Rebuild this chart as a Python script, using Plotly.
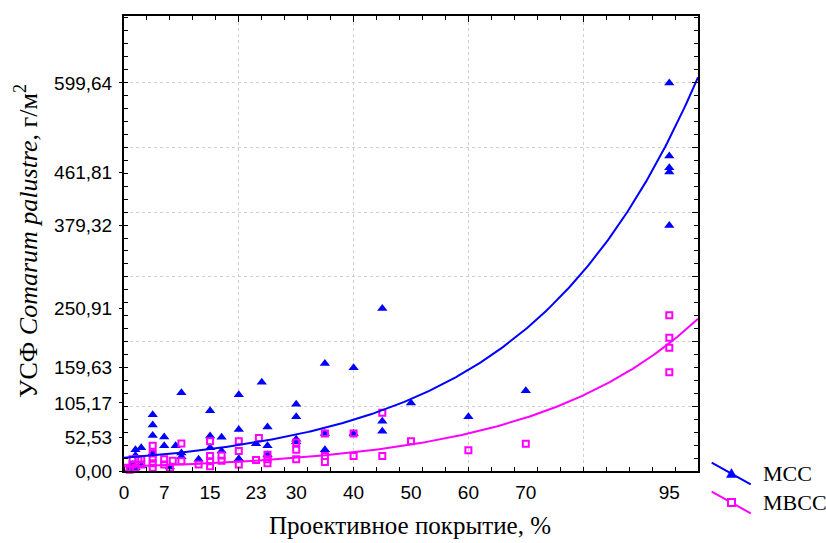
import numpy as np
import plotly.graph_objects as go

# ---------------- data ----------------
mcc_x = [1, 1.5, 2, 2, 2, 3, 3,
         5, 5, 5, 5, 7, 7, 8, 9,
         10, 10, 10, 13, 15, 15, 15, 17, 17,
         20, 20, 20, 24, 23, 25, 25, 25,
         30, 30, 30, 30, 35, 35, 35, 40, 40,
         45, 45, 45, 50, 60, 70,
         95, 95, 95, 95, 95]
mcc_y = [3, 10, 5, 24, 33, 36, 8,
         87, 71, 55, 28, 52.53, 39, 6, 39,
         121, 28, 22, 18, 93, 54, 36, 52, 31,
         118, 64, 19, 137, 42, 68, 39, 25,
         103, 84, 49, 45, 166, 58, 33, 159.63, 58,
         250.91, 77, 61.5, 105.17, 84, 124,
         599.64, 486.6, 468.6, 461.81, 379.32]

mbcc_x = [0.5, 1, 1.5, 1.5, 2, 2.5, 3, 3,
          5, 5, 5, 5, 5, 7, 7, 8, 8.5, 10, 10, 13,
          15, 15, 15, 15, 17, 17, 20, 20, 20,
          23, 23.5, 25, 25, 25, 30, 30, 30,
          35, 35, 35, 40, 40, 45, 45, 50, 60, 70,
          95, 95, 95, 95]
mbcc_y = [5, 2, 10, 18, 5, 18, 10, 18,
          39, 27, 19, 12, 5, 18, 10, 5, 16, 42.5, 15, 10,
          46, 23, 15, 7.5, 24, 16, 46, 31, 10,
          17, 51, 25, 18, 12, 44, 33, 18,
          58, 23, 14, 58, 23, 90, 23, 46, 32, 42,
          240.8, 205.9, 190.4, 152.7]

x_tick_vals = [0, 7, 15, 23, 30, 40, 50, 60, 70, 95]
y_tick_vals = [0.00, 52.53, 105.17, 159.63, 250.91, 379.32, 461.81, 599.64]
y_tick_text = [f"{v:.2f}".replace(".", ",") for v in y_tick_vals]

x_grid_vals = [20, 40, 60, 80]
y_grid_vals = [100, 200, 300, 400, 500, 600]

# exponential fits y = a * exp(b x)
mcc_fit = (20.3, 0.034)
mbcc_fit = (7.1, 0.035)

series_names = ["МСС", "МВСС"]
blue = "#0000ff"
magenta = "#ff00ff"

# ---------------- layout geometry ----------------
W, H = 826, 543
L, R, T, B = 124, 128, 16, 72
X_RANGE = [0, 100]
Y_RANGE = [0, 703]


def pxx(px):
    return (px - L) / (W - L - R)


def pxy(py):
    return (H - B - py) / (H - T - B)


xs = np.linspace(0, 100, 300)

fig = go.Figure()
fig.add_trace(go.Scatter(x=mcc_x, y=mcc_y, mode="markers",
                         marker=dict(symbol="triangle-up", size=9, color=blue,
                                     line=dict(width=0)),
                         showlegend=False, cliponaxis=False))
fig.add_trace(go.Scatter(x=mbcc_x, y=mbcc_y, mode="markers",
                         marker=dict(symbol="square-open", size=6, color=magenta,
                                     line=dict(width=2, color=magenta)),
                         showlegend=False, cliponaxis=False))
fig.add_trace(go.Scatter(x=xs, y=mcc_fit[0] * np.exp(mcc_fit[1] * xs), mode="lines",
                         line=dict(color=blue, width=2), showlegend=False))
fig.add_trace(go.Scatter(x=xs, y=mbcc_fit[0] * np.exp(mbcc_fit[1] * xs), mode="lines",
                         line=dict(color=magenta, width=2), showlegend=False))
# helper (empty) trace so that the grid axes are drawn
fig.add_trace(go.Scatter(x=[None], y=[None], xaxis="x2", yaxis="y2",
                         showlegend=False, hoverinfo="skip"))

tickfont = dict(family="Liberation Sans, Arial, sans-serif", size=19, color="black")
serif = "Liberation Serif, Times New Roman, serif"
grid_col = "#cfcfcf"

fig.update_layout(
    width=W, height=H,
    margin=dict(l=L, r=R, t=T, b=B, autoexpand=False),
    paper_bgcolor="white", plot_bgcolor="white",
    showlegend=False,
    xaxis=dict(range=X_RANGE, tickmode="array", tickvals=x_tick_vals,
               ticktext=[str(v) for v in x_tick_vals], ticks="",
               showgrid=False, zeroline=False, showline=True, linecolor="black",
               linewidth=2, mirror=True, tickfont=tickfont, ticklabelstandoff=3,
               minor=dict(tickmode="array", tickvals=list(range(0, 101, 4)),
                          ticks="inside", ticklen=4, tickcolor="black",
                          tickwidth=1, showgrid=False)),
    yaxis=dict(range=Y_RANGE, tickmode="array", tickvals=y_tick_vals,
               ticktext=y_tick_text, ticks="outside", ticklen=3, tickcolor="black",
               showgrid=False, zeroline=False, showline=True, linecolor="black",
               linewidth=2, mirror=True, tickfont=tickfont, ticklabelstandoff=3,
               minor=dict(tickmode="array", tickvals=list(range(0, 701, 20)),
                          ticks="inside", ticklen=4, tickcolor="black",
                          tickwidth=1, showgrid=False)),
    xaxis2=dict(range=X_RANGE, overlaying="x", anchor="y", side="top",
                tickmode="array", tickvals=x_grid_vals, ticks="inside", ticklen=6,
                tickcolor="black", showticklabels=False, showline=False,
                zeroline=False, showgrid=True, gridcolor=grid_col,
                griddash="3px,3px", gridwidth=1,
                minor=dict(tickmode="array", tickvals=list(range(0, 101, 4)),
                           ticks="inside", ticklen=4, tickcolor="black",
                           showgrid=False)),
    yaxis2=dict(range=Y_RANGE, overlaying="y", anchor="x", side="right",
                tickmode="array", tickvals=y_grid_vals, ticks="inside", ticklen=6,
                tickcolor="black", showticklabels=False, showline=False,
                zeroline=False, showgrid=True, gridcolor=grid_col,
                griddash="3px,3px", gridwidth=1,
                minor=dict(tickmode="array", tickvals=list(range(0, 701, 20)),
                           ticks="inside", ticklen=4, tickcolor="black",
                           showgrid=False)),
)

# axis titles
fig.add_annotation(text="Проективное покрытие, %", xref="paper", yref="paper",
                   x=pxx(410), y=pxy(541), xanchor="center", yanchor="bottom",
                   showarrow=False, font=dict(family=serif, size=25, color="black"))
fig.add_annotation(text="УСФ <i>Comarum palustre</i>, г/м<sup>2</sup>",
                   xref="paper", yref="paper", x=pxx(26), y=pxy(241),
                   xanchor="center", yanchor="middle", textangle=-90,
                   showarrow=False, font=dict(family=serif, size=26, color="black"))

# custom legend (diagonal line samples)
legend_rows = [(series_names[0], blue, 462.7, 484.3, 473.5, "tri"),
               (series_names[1], magenta, 491.7, 513.3, 502.5, "sq")]
for name, col, y0, y1, ym, kind in legend_rows:
    fig.add_shape(type="line", xref="paper", yref="paper",
                  x0=pxx(711.7), x1=pxx(750.7), y0=pxy(y0), y1=pxy(y1),
                  line=dict(color=col, width=2))
    xm = 731.5
    if kind == "tri":
        fig.add_shape(type="path", xref="paper", yref="paper",
                      xsizemode="pixel", ysizemode="pixel",
                      xanchor=pxx(xm), yanchor=pxy(ym),
                      path="M-5,-4 L5,-4 L0,5 Z", fillcolor=col,
                      line=dict(color=col, width=0.5))
    else:
        fig.add_shape(type="rect", xref="paper", yref="paper",
                      xsizemode="pixel", ysizemode="pixel",
                      xanchor=pxx(xm), yanchor=pxy(ym),
                      x0=-3.5, x1=3.5, y0=-3.5, y1=3.5, fillcolor="white",
                      line=dict(color=col, width=2))
    fig.add_annotation(text=name, xref="paper", yref="paper",
                       x=pxx(761), y=pxy(ym), xanchor="left", yanchor="middle",
                       showarrow=False,
                       font=dict(family=serif, size=22, color="black"))

fig.write_html("out.html")
